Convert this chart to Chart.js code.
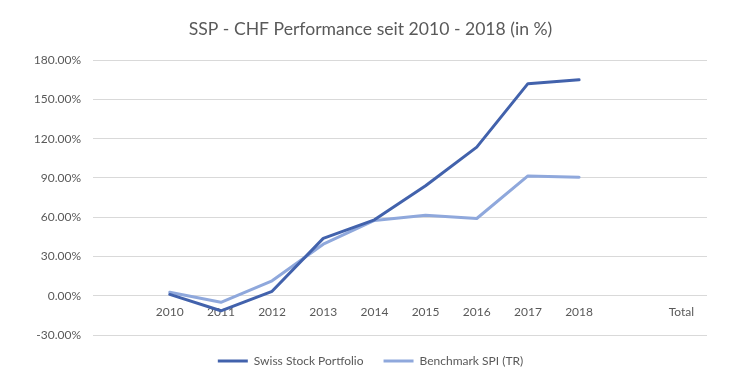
<!DOCTYPE html>
<html>
<head>
<meta charset="utf-8">
<script src="https://cdn.jsdelivr.net/npm/chart.js@4/dist/chart.umd.min.js"></script>
<style>
  html, body { margin: 0; padding: 0; background: #fff; }
  #wrap { width: 740px; height: 370px; }
</style>
</head>
<body>
<div id="wrap"><canvas id="chart"></canvas></div>
<script>
// categories ('' = empty slots on the category axis)
const categories = ['', '2010', '2011', '2012', '2013', '2014', '2015', '2016', '2017', '2018', '', 'Total'];

// performance in %
const portfolio = [null, 1.0, -11.5, 3.4, 43.8, 58.0, 84.0, 113.5, 162.0, 165.0, null, null];
const benchmark = [null, 2.6, -5.0, 11.4, 39.4, 57.5, 61.5, 59.0, 91.5, 90.5, null, null];

const yTicks = {min: -30, max: 180, step: 30};

const textColor = '#595959';
const gridColor = '#D9D9D9';

const data = {
    labels: categories,
    datasets: [{
        label: 'Swiss Stock Portfolio',
        data: portfolio,
        borderColor: '#4262AC',
        backgroundColor: '#4262AC',
        borderWidth: 3,
        pointRadius: 0,
        tension: 0,
        borderJoinStyle: 'round',
        borderCapStyle: 'round'
    }, {
        label: 'Benchmark SPI (TR)',
        data: benchmark,
        borderColor: '#8FA8DC',
        backgroundColor: '#8FA8DC',
        borderWidth: 3,
        pointRadius: 0,
        tension: 0,
        borderJoinStyle: 'round',
        borderCapStyle: 'round'
    }]
};

const options = {
    responsive: true,
    maintainAspectRatio: false,
    animation: false,
    events: [],
    // y labels are clipped to the scale box, so keep left padding small
    layout: {padding: {left: 34, right: 33, top: 0, bottom: 0}},
    plugins: {
        title: {
            display: true,
            text: 'SSP - CHF Performance seit 2010 - 2018 (in %)',
            color: textColor,
            font: {family: 'Lato', size: 17.6, weight: 'normal'},
            padding: {top: 19, bottom: 20}
        },
        legend: {
            position: 'bottom',
            maxHeight: 35,
            labels: {
                color: textColor,
                font: {family: 'Lato', size: 12},
                usePointStyle: true,
                pointStyle: 'line',
                pointStyleWidth: 30,
                boxHeight: 12,
                padding: 20
            }
        },
        tooltip: {enabled: false}
    },
    scales: {
        x: {
            position: {y: 0},
            offset: true,
            grid: {display: false, drawTicks: false},
            border: {display: false},
            ticks: {
                color: textColor,
                font: {family: 'Lato', size: 12},
                padding: 9,
                maxRotation: 0,
                autoSkip: false
            }
        },
        y: {
            min: yTicks.min,
            max: yTicks.max,
            grid: {color: gridColor, drawTicks: false, lineWidth: 1},
            border: {display: false},
            ticks: {
                stepSize: yTicks.step,
                color: textColor,
                font: {family: 'Lato', size: 12},
                padding: 12,
                callback: (v) => v.toFixed(2) + '%'
            },
            afterFit: (scale) => { scale.width = 59; }
        }
    }
};

new Chart(document.getElementById('chart'), {type: 'line', data: data, options: options});
</script>
</body>
</html>
